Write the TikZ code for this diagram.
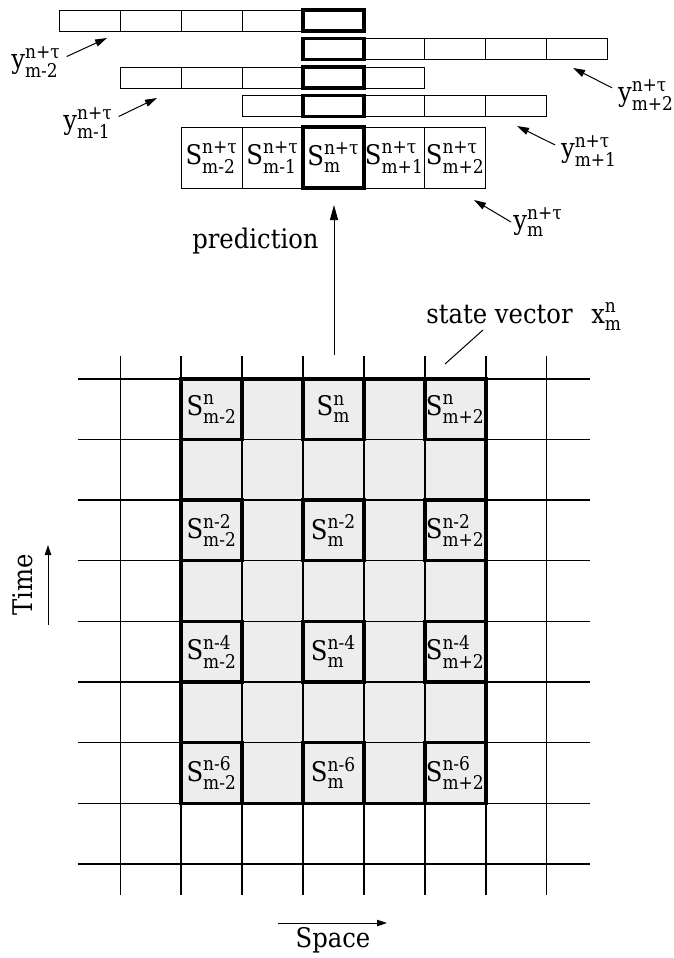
\documentclass[tikz,border=0pt,12pt]{standalone}
\usepackage{amsmath}
\usepackage{fontspec}
\setmainfont{DejaVu Serif}[FakeStretch=0.9]
\usetikzlibrary{arrows.meta, positioning, calc}

% letter with upright super- and subscript
\newcommand{\lbl}[3]{#1$^{\text{#2}}_{\text{#3}}$}

\begin{document}
\begin{tikzpicture}[
    x=0.5pt, y=-0.5pt,
    every node/.style={inner sep=1pt, font=\fontsize{13.5}{16}\selectfont},
    cellline/.style={line width=0.5pt},
    gridline/.style={line width=0.8pt},
    boldbox/.style={line width=1.8pt},
    arr/.style={-{Triangle[length=6pt,width=3.6pt]}, line width=0.5pt},
    axisarr/.style={-{Triangle[length=5pt,width=3.2pt]}, line width=0.5pt}
]
    \useasboundingbox (0,0) rectangle (674,958);
    \def\cx{59.5}
    \def\cw{60.89}
    \def\gy{378.7}
    \def\rh{60.66}

    % predicted rows y^{n+tau}
    \foreach \a/\yy in {0/10, 4/38.5, 1/67, 3/95.5} {
        \draw[cellline] ({\cx+\cw*\a},\yy) rectangle ({\cx+\cw*(\a+5)},{\yy+21});
        \foreach \k in {1,...,4}
            \draw[cellline] ({\cx+\cw*(\a+\k)},\yy) -- ++(0,21);
        \draw[boldbox] ({\cx+\cw*4},\yy) rectangle ({\cx+\cw*5},{\yy+21});
    }

    % predicted state S^{n+tau}
    \draw[cellline] ({\cx+\cw*2},127) rectangle ({\cx+\cw*7},188);
    \foreach \k in {3,...,6}
        \draw[cellline] ({\cx+\cw*\k},127) -- ++(0,61);
    \draw[boldbox] ({\cx+\cw*4},127) rectangle ({\cx+\cw*5},188);
    \foreach \c/\s in {2/m-2, 3/m-1, 4/m, 5/m+1, 6/m+2}
        \node (p\c) at ({\cx+\cw*(\c+0.5)},157.5) {\lbl{S}{n+τ}{\s}};

    % labels of the rows
    \node (ym2) at (36,62) {\lbl{y}{n+τ}{m-2}};
    \node (ym1) at (88,123) {\lbl{y}{n+τ}{m-1}};
    \node (yp2) at (646,95) {\lbl{y}{n+τ}{m+2}};
    \node (yp1) at (589,151) {\lbl{y}{n+τ}{m+1}};
    \node (ym) at (538,222) {\lbl{y}{n+τ}{m}};

    \coordinate (ym2tip) at (107,38);
    \coordinate (ym1tip) at (157,98);
    \coordinate (yp2tip) at (573,68);
    \coordinate (yp1tip) at (517,126);
    \coordinate (ymtip) at (474,200);

    \draw[arr, shorten <=2pt] (ym2.8) -- (ym2tip);
    \draw[arr, shorten <=2pt] (ym1.10) -- (ym1tip);
    \draw[arr, shorten <=2pt] (yp2.170) -- (yp2tip);
    \draw[arr, shorten <=2pt] (yp1.172) -- (yp1tip);
    \draw[arr] (ym.west) -- (ymtip);

    % prediction
    \coordinate (predfoot) at (334,355);
    \coordinate (predtip) at (334,205);
    \draw[arr, -{Triangle[length=7.5pt,width=4pt]}] (predfoot) -- (predtip);
    \node[anchor=base east] (predlbl) at (321,248) {prediction};

    % space-time grid
    \fill[black!7] ({\cx+\cw*2},\gy) rectangle ({\cx+\cw*7},{\gy+\rh*7});
    \foreach \c in {1,...,8}
        \draw[gridline] ({\cx+\cw*\c},356) -- ({\cx+\cw*\c},895);
    \foreach \r in {0,...,8}
        \draw[gridline] (77.7,{\gy+\rh*\r}) -- (590,{\gy+\rh*\r});
    \draw[boldbox] ({\cx+\cw*2},\gy) rectangle ({\cx+\cw*7},{\gy+\rh*7});
    \foreach \c/\m in {2/m-2, 4/m, 6/m+2}
        \foreach \r/\n in {0/n, 2/n-2, 4/n-4, 6/n-6} {
            \draw[boldbox] ({\cx+\cw*\c},{\gy+\rh*\r}) rectangle ({\cx+\cw*(\c+1)},{\gy+\rh*(\r+1)});
            \node (g\c\r) at ({\cx+\cw*(\c+0.5)},{\gy+\rh*(\r+0.5)}) {\lbl{S}{\n}{\m}};
        }

    % state vector
    \node[anchor=base west] (svlbl) at (424,323) {state vector\hspace{0.4em} \lbl{x}{n}{m}};
    \coordinate (svtop) at (483,330);
    \coordinate (svfoot) at (445,364);
    \draw[cellline] (svtop) -- (svfoot);

    % axes
    \node[rotate=90] (time) at (23,585) {Time};
    \coordinate (timefoot) at (48,625);
    \coordinate (timetip) at (48,545);
    \draw[axisarr] (timefoot) -- (timetip);

    \node[anchor=base] (space) at (333,947) {Space};
    \coordinate (spacefoot) at (278,923);
    \coordinate (spacetip) at (387,923);
    \draw[axisarr] (spacefoot) -- (spacetip);
\end{tikzpicture}
\end{document}
